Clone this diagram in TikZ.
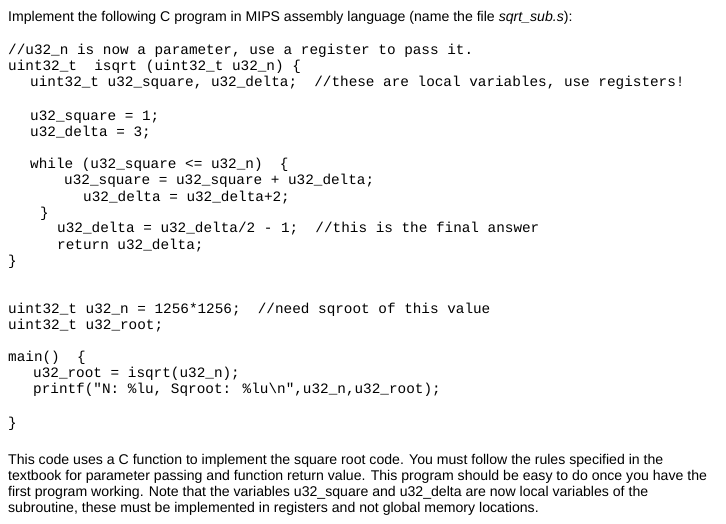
\documentclass[tikz,border=0pt]{standalone}
\usepackage{fontspec}
\setmainfont{Liberation Sans}
\newfontfamily\cd{Liberation Mono}
\begin{document}
\begin{tikzpicture}[x=1pt,y=-1pt,
 c/.style={anchor=base west,inner sep=0pt,font=\cd\fontsize{14.35}{16}\selectfont},
 p/.style={anchor=base west,inner sep=0pt,font=\fontsize{14.1}{16}\selectfont}]
\useasboundingbox[fill=white] (0,0) rectangle (726,524);
\node[p] (t1) at (8,22) {Implement the following C program in MIPS assembly language (name the file \textit{sqrt\_sub.s}):};
\node[c] (l1) at (8,55) {//u32\_n is now a parameter, use a register to pass it.};
\node[c] (l2) at (8,71) {uint32\_t~~isqrt (uint32\_t u32\_n) \{};
\node[c] (l3) at (30,87) {uint32\_t u32\_square, u32\_delta;~~//these are local variables, use registers!};
\node[c] (l4) at (30,121) {u32\_square = 1;};
\node[c] (l5) at (30,137) {u32\_delta = 3;};
\node[c] (l6) at (30,169) {while (u32\_square <= u32\_n)~~\{};
\node[c] (l7) at (64,185) {u32\_square = u32\_square + u32\_delta;};
\node[c] (l8) at (83,201) {u32\_delta = u32\_delta+2;};
\node[c] (l9) at (40,217) {\}};
\node[c] (l10) at (57,233) {u32\_delta = u32\_delta/2 - 1;~~//this is the final answer};
\node[c] (l11) at (57,249) {return u32\_delta;};
\node[c] (l12) at (8,265) {\}};
\node[c] (l13) at (8,313) {uint32\_t u32\_n = 1256*1256;~~//need sqroot of this value};
\node[c] (l14) at (8,329) {uint32\_t u32\_root;};
\node[c] (l15) at (8,361) {main()~~\{};
\node[c] (l16) at (33,377) {u32\_root = isqrt(u32\_n);};
\node[c] (l17) at (33,393) {printf("N: \%lu, Sqroot: \%lu\textbackslash n",u32\_n,u32\_root);};
\node[c] (l18) at (8,427) {\}};
\node[p] (q1) at (8,464) {This code uses a C function to implement the square root code. You must follow the rules specified in the};
\node[p] (q2) at (8,480) {textbook for parameter passing and function return value. This program should be easy to do once you have the};
\node[p] (q3) at (8,496) {first program working. Note that the variables u32\_square and u32\_delta are now local variables of the};
\node[p] (q4) at (8,512) {subroutine, these must be implemented in registers and not global memory locations.};
\end{tikzpicture}
\end{document}
